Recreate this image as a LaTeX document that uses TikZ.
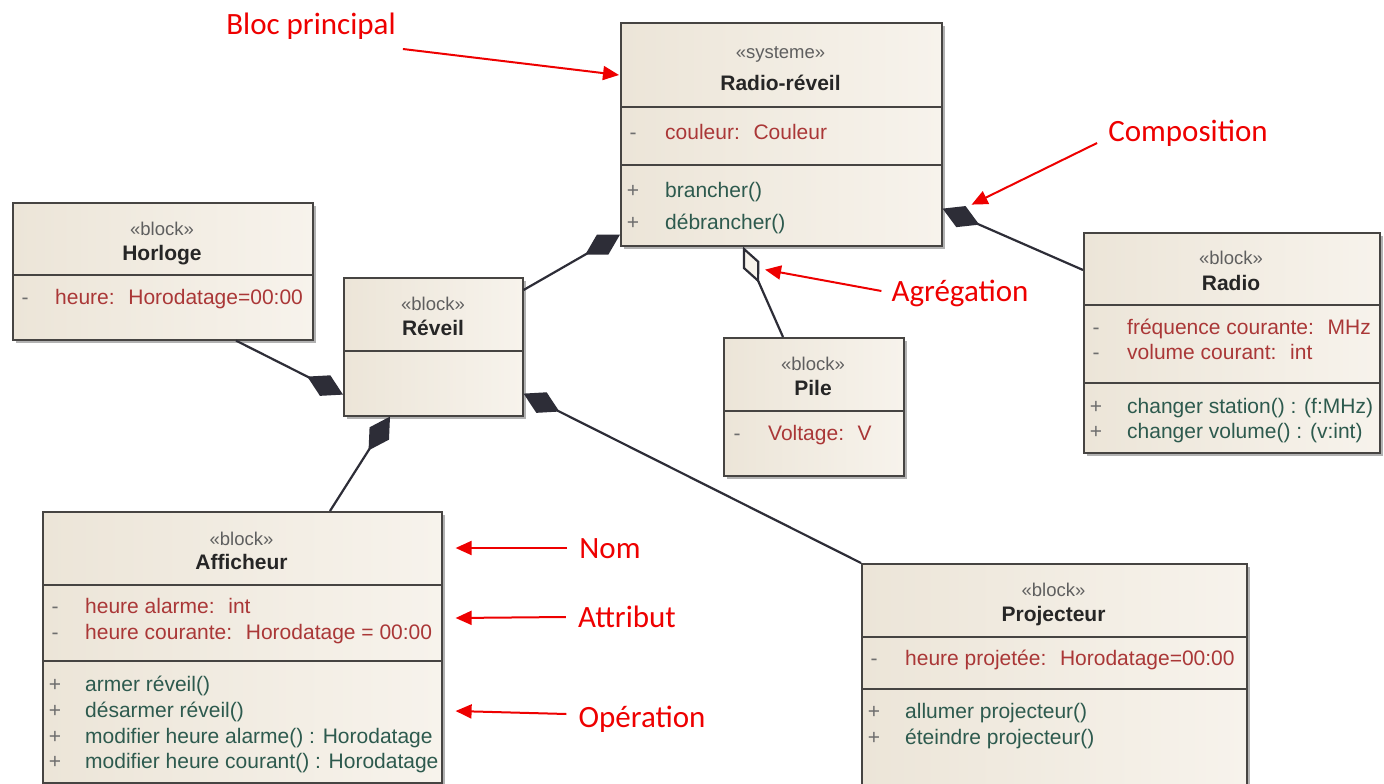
\documentclass[tikz,border=0pt]{standalone}
\usepackage{fontspec}
\setmainfont{Liberation Sans}
\newfontfamily\calloutfont{Carlito}
\usetikzlibrary{arrows.meta,shadows}

\definecolor{boxL}{RGB}{236,229,216}
\definecolor{boxR}{RGB}{247,243,236}
\definecolor{boxedge}{RGB}{70,68,66}
\definecolor{linkcol}{RGB}{45,45,55}
\definecolor{stereocol}{RGB}{95,95,95}
\definecolor{attrcol}{RGB}{170,55,55}
\definecolor{opercol}{RGB}{45,90,78}
\definecolor{signcol}{RGB}{110,110,110}
\definecolor{notecol}{RGB}{238,0,0}

\tikzset{
  blk/.style={draw=boxedge, line width=1.6pt, left color=boxL, right color=boxR,
    anchor=north west, inner sep=0pt,
    drop shadow={shadow xshift=3pt, shadow yshift=-3pt, fill=black, opacity=0.3}},
  sep/.style={draw=boxedge, line width=1.4pt},
  stype/.style={font=\fontsize{18.5}{22}\selectfont, text=stereocol, inner sep=0pt,
    text height=14pt, text depth=0pt},
  bname/.style={font=\fontsize{21}{25}\selectfont\bfseries, text=black!85, inner sep=0pt,
    text height=15pt, text depth=0pt},
  attrtxt/.style={font=\fontsize{21}{25}\selectfont, text=attrcol, anchor=west,
    inner sep=0pt, text height=15pt, text depth=0pt},
  optxt/.style={font=\fontsize{21}{25}\selectfont, text=opercol, anchor=west,
    inner sep=0pt, text height=15pt, text depth=0pt},
  sgn/.style={font=\fontsize{21}{25}\selectfont, text=signcol, inner sep=0pt,
    text height=15pt, text depth=0pt},
  comp/.style={draw=linkcol, line width=2.2pt, {Diamond[length=40pt,width=23pt]}-},
  aggr/.style={draw=linkcol, line width=2.2pt, {Diamond[length=40pt,width=18pt,fill=boxR]}-},
  notelbl/.style={font=\calloutfont\fontsize{31}{36}\selectfont, text=notecol,
    inner sep=0pt, text height=20pt, text depth=0pt},
  pointer/.style={draw=notecol, line width=2pt, -{Triangle[length=16pt,width=14pt]}},
}

\begin{document}
\begin{tikzpicture}[x=1pt,y=-1pt]
\useasboundingbox (0,0) rectangle (1384,784);
\fill[white] (0,0) rectangle (1384,784);

% ---- Radio-réveil (main block)
\node[blk, minimum width=321pt, minimum height=223pt] (rr) at (620,22) {};
\draw[sep] ([yshift=-85pt]rr.north west) -- ([yshift=-85pt]rr.north east);
\draw[sep] ([yshift=-143pt]rr.north west) -- ([yshift=-143pt]rr.north east);
\node[stype] (rr-st) at (780.5,52) {«systeme»};
\node[bname] (rr-nm) at (780.5,83) {Radio-réveil};
\node[sgn] (rr-s1) at (633,132) {-};
\node[attrtxt] (rr-a1) at (665,132) {couleur:~ Couleur};
\node[sgn] (rr-s2) at (633,190) {+};
\node[optxt] (rr-o1) at (665,190) {brancher()};
\node[sgn] (rr-s3) at (633,222) {+};
\node[optxt] (rr-o2) at (665,222) {débrancher()};

% ---- Horloge
\node[blk, minimum width=300pt, minimum height=137pt] (ho) at (12,202) {};
\draw[sep] ([yshift=-73pt]ho.north west) -- ([yshift=-73pt]ho.north east);
\node[stype] (ho-st) at (162,228) {«block»};
\node[bname] (ho-nm) at (162,253) {Horloge};
\node[sgn] (ho-s1) at (25,297) {-};
\node[attrtxt] (ho-a1) at (55,297) {heure:~ Horodatage=00:00};

% ---- Réveil
\node[blk, minimum width=179pt, minimum height=138pt] (rv) at (343,277) {};
\draw[sep] ([yshift=-74pt]rv.north west) -- ([yshift=-74pt]rv.north east);
\node[stype] (rv-st) at (433,303) {«block»};
\node[bname] (rv-nm) at (433,328) {Réveil};

% ---- Radio
\node[blk, minimum width=296pt, minimum height=220pt] (ra) at (1083,232) {};
\draw[sep] ([yshift=-73pt]ra.north west) -- ([yshift=-73pt]ra.north east);
\draw[sep] ([yshift=-151pt]ra.north west) -- ([yshift=-151pt]ra.north east);
\node[stype] (ra-st) at (1231,257) {«block»};
\node[bname] (ra-nm) at (1231,283) {Radio};
\node[sgn] (ra-s1) at (1096,327) {-};
\node[attrtxt] (ra-a1) at (1127,327) {fréquence courante:~ MHz};
\node[sgn] (ra-s2) at (1096,352) {-};
\node[attrtxt] (ra-a2) at (1127,352) {volume courant:~ int};
\node[sgn] (ra-s3) at (1096,406) {+};
\node[optxt] (ra-o1) at (1127,406) {changer station() : (f:MHz)};
\node[sgn] (ra-s4) at (1096,431) {+};
\node[optxt] (ra-o2) at (1127,431) {changer volume() : (v:int)};

% ---- Pile
\node[blk, minimum width=180pt, minimum height=138pt] (pi) at (723,337) {};
\draw[sep] ([yshift=-74pt]pi.north west) -- ([yshift=-74pt]pi.north east);
\node[stype] (pi-st) at (813,363) {«block»};
\node[bname] (pi-nm) at (813,388) {Pile};
\node[sgn] (pi-s1) at (737,433) {-};
\node[attrtxt] (pi-a1) at (768,433) {Voltage:~ V};

% ---- Afficheur
\node[blk, minimum width=399pt, minimum height=271pt] (af) at (42,511) {};
\draw[sep] ([yshift=-74pt]af.north west) -- ([yshift=-74pt]af.north east);
\draw[sep] ([yshift=-150pt]af.north west) -- ([yshift=-150pt]af.north east);
\node[stype] (af-st) at (241.5,538) {«block»};
\node[bname] (af-nm) at (241.5,562) {Afficheur};
\node[sgn] (af-s1) at (55,606) {-};
\node[attrtxt] (af-a1) at (85,606) {heure alarme:~ int};
\node[sgn] (af-s2) at (55,632) {-};
\node[attrtxt] (af-a2) at (85,632) {heure courante:~ Horodatage = 00:00};
\node[sgn] (af-s3) at (55,684) {+};
\node[optxt] (af-o1) at (85,684) {armer réveil()};
\node[sgn] (af-s4) at (55,710) {+};
\node[optxt] (af-o2) at (85,710) {désarmer réveil()};
\node[sgn] (af-s5) at (55,736) {+};
\node[optxt] (af-o3) at (85,736) {modifier heure alarme() : Horodatage};
\node[sgn] (af-s6) at (55,761) {+};
\node[optxt] (af-o4) at (85,761) {modifier heure courant() : Horodatage};

% ---- Projecteur
\node[blk, minimum width=385pt, minimum height=232pt] (pr) at (861,563) {};
\draw[sep] ([yshift=-74pt]pr.north west) -- ([yshift=-74pt]pr.north east);
\draw[sep] ([yshift=-126pt]pr.north west) -- ([yshift=-126pt]pr.north east);
\node[stype] (pr-st) at (1053.5,589) {«block»};
\node[bname] (pr-nm) at (1053.5,614) {Projecteur};
\node[sgn] (pr-s1) at (874,658) {-};
\node[attrtxt] (pr-a1) at (905,658) {heure projetée:~ Horodatage=00:00};
\node[sgn] (pr-s2) at (874,711) {+};
\node[optxt] (pr-o1) at (905,711) {allumer projecteur()};
\node[sgn] (pr-s3) at (874,737) {+};
\node[optxt] (pr-o2) at (905,737) {éteindre projecteur()};

% ---- composition / aggregation links (diamond on the whole)
\draw[comp] ([yshift=12pt]rr.south west) -- ([yshift=-13pt]rv.north east);
\draw[comp] ([yshift=38pt]rr.south east) -- ([yshift=-38pt]ra.north west);
\draw[aggr] ([xshift=123pt]rr.south west) -- ([xshift=60pt]pi.north west);
\draw[comp] ([yshift=22pt]rv.south west) -- ([xshift=224pt]ho.south west);
\draw[comp] ([xshift=47pt]rv.south west) -- ([xshift=288pt]af.north west);
\draw[comp] ([yshift=23pt]rv.south east) -- (pr.north west);

% ---- red call-outs
\node[notelbl] (bp) at (311,25) {Bloc principal};
\node[notelbl] (co) at (1188,131) {Composition};
\node[notelbl] (ag) at (960,291) {Agrégation};
\node[notelbl] (nom) at (610,548) {Nom};
\node[notelbl] (atb) at (627,617) {Attribut};
\node[notelbl] (opn) at (642,717) {Opération};

\draw[pointer] ([xshift=7pt,yshift=-24pt]bp.east) -- ([xshift=-1pt,yshift=-53pt]rr.north west);
\draw[pointer] ([xshift=-11pt,yshift=-12pt]co.west) -- ([xshift=29pt,yshift=42pt]rr.south east);
\draw[pointer] ([xshift=-10pt]ag.west) -- ([xshift=145pt,yshift=-23pt]rr.south west);
\draw[pointer] ([xshift=-12pt]nom.west) -- ([xshift=13pt,yshift=-37pt]af.north east);
\draw[pointer] ([xshift=-12pt]atb.west) -- ([xshift=13pt,yshift=-107pt]af.north east);
\draw[pointer] ([xshift=-12pt,yshift=3pt]opn.west) -- ([xshift=13pt,yshift=-200pt]af.north east);
\end{tikzpicture}
\end{document}
